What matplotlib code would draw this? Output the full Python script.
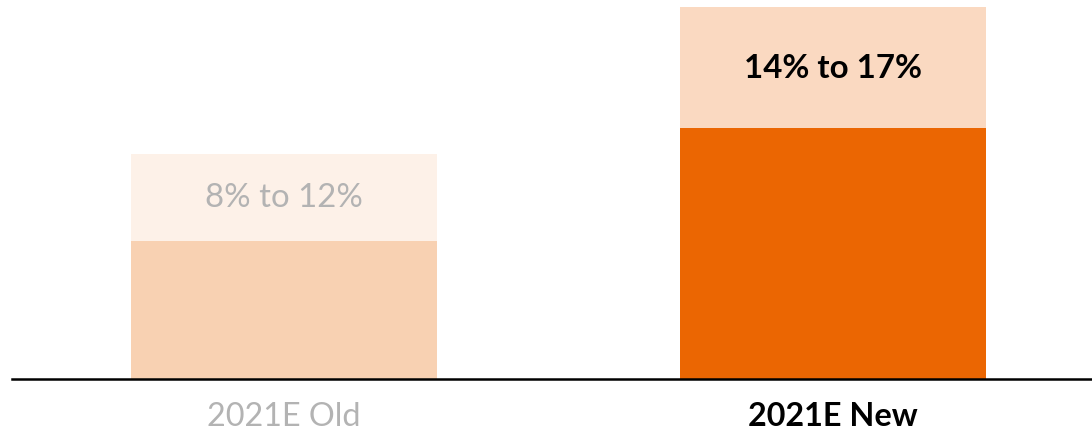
import matplotlib.pyplot as plt

# bar heights as drawn (not to scale with the labels in the source)
categories = ['2021E Old', '2021E New']
base_height = [8.0, 14.5]
band_height = [5.0, 7.0]
band_labels = ['8% to 12%', '14% to 17%']

base_colors = ['#F8D1B2', '#EB6602']
band_colors = ['#FDF1E8', '#FAD9C1']
text_colors = ['#B3B3B3', '#000000']
text_weights = ['normal', 'bold']

plt.rcParams['font.family'] = ['Lato', 'DejaVu Sans']

fig = plt.figure(figsize=(10.92, 4.31), dpi=100)
ax = fig.add_axes([12/1092, 51/431, 1080/1092, 380/431])

x = range(len(categories))
ax.bar(x, base_height, width=0.558, color=base_colors, zorder=2)
ax.bar(x, band_height, width=0.558, bottom=base_height, color=band_colors, zorder=2)

for i in x:
    ax.text(i, base_height[i] + band_height[i] / 2, band_labels[i],
            ha='center', va='center', fontsize=23.8,
            color=text_colors[i], fontweight=text_weights[i])

ax.set_xlim(-0.496, 1.473)
ax.set_ylim(0, 21.98)
ax.set_xticks(list(x))
ax.set_xticklabels(categories, fontsize=23.3)
for lbl, c, w in zip(ax.get_xticklabels(), text_colors, text_weights):
    lbl.set_color(c)
    lbl.set_fontweight(w)
ax.tick_params(axis='x', length=0, pad=16)
ax.set_yticks([])
for s in ['top', 'right', 'left']:
    ax.spines[s].set_visible(False)
ax.spines['bottom'].set_linewidth(1.8)
ax.spines['bottom'].set_zorder(3)

fig.savefig('out.png', dpi=100)
